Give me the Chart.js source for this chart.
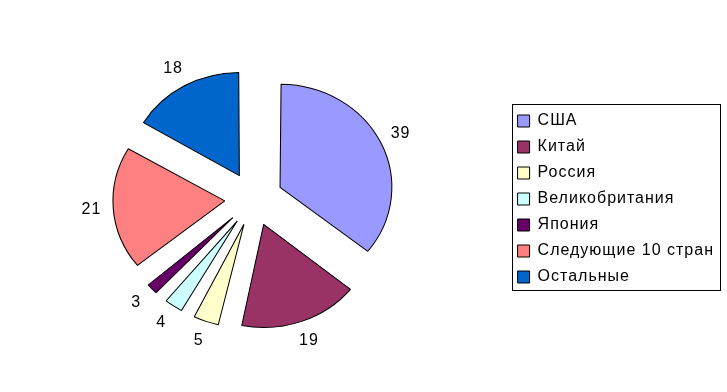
<!DOCTYPE html>
<html>
<head>
<meta charset="utf-8">
<script src="https://cdn.jsdelivr.net/npm/chart.js@4.4.1/dist/chart.umd.min.js"></script>
<style>
  html, body { margin: 0; padding: 0; background: #fff; }
</style>
</head>
<body>
<canvas id="chart" width="727" height="392"></canvas>
<script>
const labels = ["США", "Китай", "Россия", "Великобритания", "Япония", "Следующие 10 стран", "Остальные"];
const values = [39, 19, 5, 4, 3, 21, 18];
const colors = ["#9999ff", "#993366", "#ffffcc", "#ccffff", "#660066", "#ff8080", "#0066cc"];

const RADIUS = 107.5;
const SHIFT = 28; // every slice is pulled out by this much
const SX = 1.04, SY = 0.96; // the original pie is a little wider than tall
const FONT = { family: '"Liberation Sans", Arial, sans-serif', size: 16 };

// excel-ish text has a bit of tracking
const tracking = {
  id: "tracking",
  beforeUpdate(chart) { chart.ctx.letterSpacing = "1px"; },
  beforeDraw(chart) { chart.ctx.letterSpacing = "1px"; },
};

// chart.js grows small exploded slices, keep them all the same radius
const explode = {
  id: "explode",
  afterDatasetUpdate(chart, args) {
    args.meta.data.forEach((arc) => {
      const shift = (arc.options.offset || 0) / 4;
      const fix = 1 - Math.sin(Math.min(Math.PI, arc.circumference));
      arc.outerRadius = RADIUS - shift * fix;
    });
  },
};

// squash the pie into a slight ellipse around its centre
const stretch = {
  id: "stretch",
  beforeDatasetsDraw(chart) {
    const a = chart.chartArea;
    const cx = (a.left + a.right) / 2, cy = (a.top + a.bottom) / 2;
    chart.ctx.save();
    chart.ctx.translate(cx, cy);
    chart.ctx.scale(SX, SY);
    chart.ctx.translate(-cx, -cy);
  },
  afterDatasetsDraw(chart) {
    chart.ctx.restore();
  },
};

const sliceLabels = {
  id: "sliceLabels",
  afterDatasetsDraw(chart) {
    const ctx = chart.ctx;
    const meta = chart.getDatasetMeta(0);
    ctx.save();
    ctx.font = `${FONT.size}px ${FONT.family}`;
    ctx.fillStyle = "#000";
    ctx.textAlign = "center";
    ctx.textBaseline = "middle";
    meta.data.forEach((arc, i) => {
      const mid = (arc.startAngle + arc.endAngle) / 2;
      const r = RADIUS + SHIFT + 21;
      ctx.fillText(values[i], arc.x + Math.cos(mid) * r * SX, arc.y + Math.sin(mid) * r * SY);
    });
    ctx.restore();
  },
};

const legendBox = {
  id: "legendBox",
  afterDraw(chart) {
    const boxes = chart.legend.legendHitBoxes;
    if (!boxes.length) return;
    const first = boxes[0];
    const last = boxes[boxes.length - 1];
    const right = Math.max(...boxes.map((b) => b.left + b.width));
    const ctx = chart.ctx;
    ctx.save();
    ctx.strokeStyle = "#000";
    ctx.lineWidth = 1;
    ctx.strokeRect(Math.round(first.left - 6) + 0.5, Math.round(first.top - 9) + 0.5,
      Math.round(right - first.left + 12), Math.round(last.top + last.height - first.top + 14));
    ctx.restore();
  },
};

const ctx = document.getElementById("chart").getContext("2d");
new Chart(ctx, {
  type: "pie",
  data: {
    labels: labels,
    datasets: [{
      data: values,
      backgroundColor: colors,
      borderColor: "#000",
      borderWidth: 1,
      offset: SHIFT * 4,
      hoverOffset: 0,
    }],
  },
  options: {
    responsive: false,
    animation: false,
    events: [],
    radius: RADIUS,
    layout: { padding: { top: 6, bottom: 0, left: 0, right: 3 } },
    plugins: {
      tooltip: { enabled: false },
      legend: {
        position: "right",
        labels: {
          boxWidth: 12,
          boxHeight: 12,
          padding: 10,
          color: "#000",
          font: FONT,
        },
      },
    },
  },
  plugins: [tracking, explode, stretch, sliceLabels, legendBox],
});
</script>
</body>
</html>
